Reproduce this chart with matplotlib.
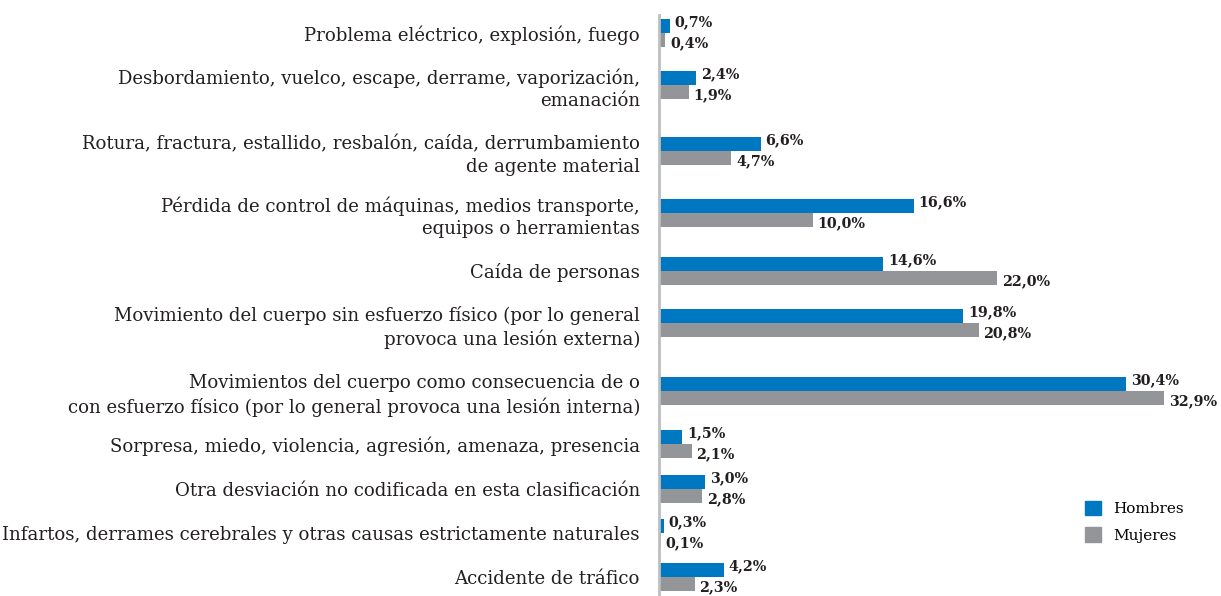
import matplotlib.pyplot as plt
from matplotlib.patches import Patch

# Datos del gráfico
categorias = [
    'Problema eléctrico, explosión, fuego',
    'Desbordamiento, vuelco, escape, derrame, vaporización,\nemanación',
    'Rotura, fractura, estallido, resbalón, caída, derrumbamiento\nde agente material',
    'Pérdida de control de máquinas, medios transporte,\nequipos o herramientas',
    'Caída de personas',
    'Movimiento del cuerpo sin esfuerzo físico (por lo general\nprovoca una lesión externa)',
    'Movimientos del cuerpo como consecuencia de o\ncon esfuerzo físico (por lo general provoca una lesión interna)',
    'Sorpresa, miedo, violencia, agresión, amenaza, presencia',
    'Otra desviación no codificada en esta clasificación',
    'Infartos, derrames cerebrales y otras causas estrictamente naturales',
    'Accidente de tráfico',
]
hombres = [0.7, 2.4, 6.6, 16.6, 14.6, 19.8, 30.4, 1.5, 3.0, 0.3, 4.2]
mujeres = [0.4, 1.9, 4.7, 10.0, 22.0, 20.8, 32.9, 2.1, 2.8, 0.1, 2.3]

color_h = '#0077c1'
color_m = '#939598'

plt.rcParams['font.family'] = ['DejaVu Serif']

fig = plt.figure(figsize=(12.21, 5.96), dpi=100)
ax = fig.add_axes([0.54, 0.0, 0.44, 0.975])

# Posiciones de las categorías (espaciado irregular como en el original)
y = [0, 0.945, 2.145, 3.273, 4.327, 5.273, 6.509, 7.473, 8.291, 9.091, 9.891]
h = 0.2545
ax.barh([v - h / 2 for v in y], hombres, height=h, color=color_h)
ax.barh([v + h / 2 for v in y], mujeres, height=h, color=color_m)

# Etiquetas de valores
for i in range(len(categorias)):
    ax.text(hombres[i] + 0.3, y[i] - h / 2 - 0.07, f'{hombres[i]:.1f}%'.replace('.', ','),
            va='center', ha='left', fontsize=10.3, fontweight='bold', color='#231f20')
    ax.text(mujeres[i] + 0.3, y[i] + h / 2 + 0.06, f'{mujeres[i]:.1f}%'.replace('.', ','),
            va='center', ha='left', fontsize=10.3, fontweight='bold', color='#231f20')

ax.set_yticks(y)
ax.set_yticklabels(categorias, fontsize=13.1, color='#231f20', linespacing=1.33)
ax.tick_params(axis='y', length=0, pad=14)
ax.set_ylim(10.236, -0.327)
ax.set_xlim(0, 35)
ax.set_xticks([])

for s in ['top', 'right', 'bottom']:
    ax.spines[s].set_visible(False)
ax.spines['left'].set_color('#bcbec0')
ax.spines['left'].set_linewidth(2)

handles = [Patch(color=color_h, label='Hombres'), Patch(color=color_m, label='Mujeres')]
fig.legend(handles=handles, loc='upper left', bbox_to_anchor=(0.877, 0.183), frameon=False,
           fontsize=11, handlelength=1.05, handleheight=1.05, labelspacing=0.75, handletextpad=0.8)

fig.savefig('out.png', dpi=100)
